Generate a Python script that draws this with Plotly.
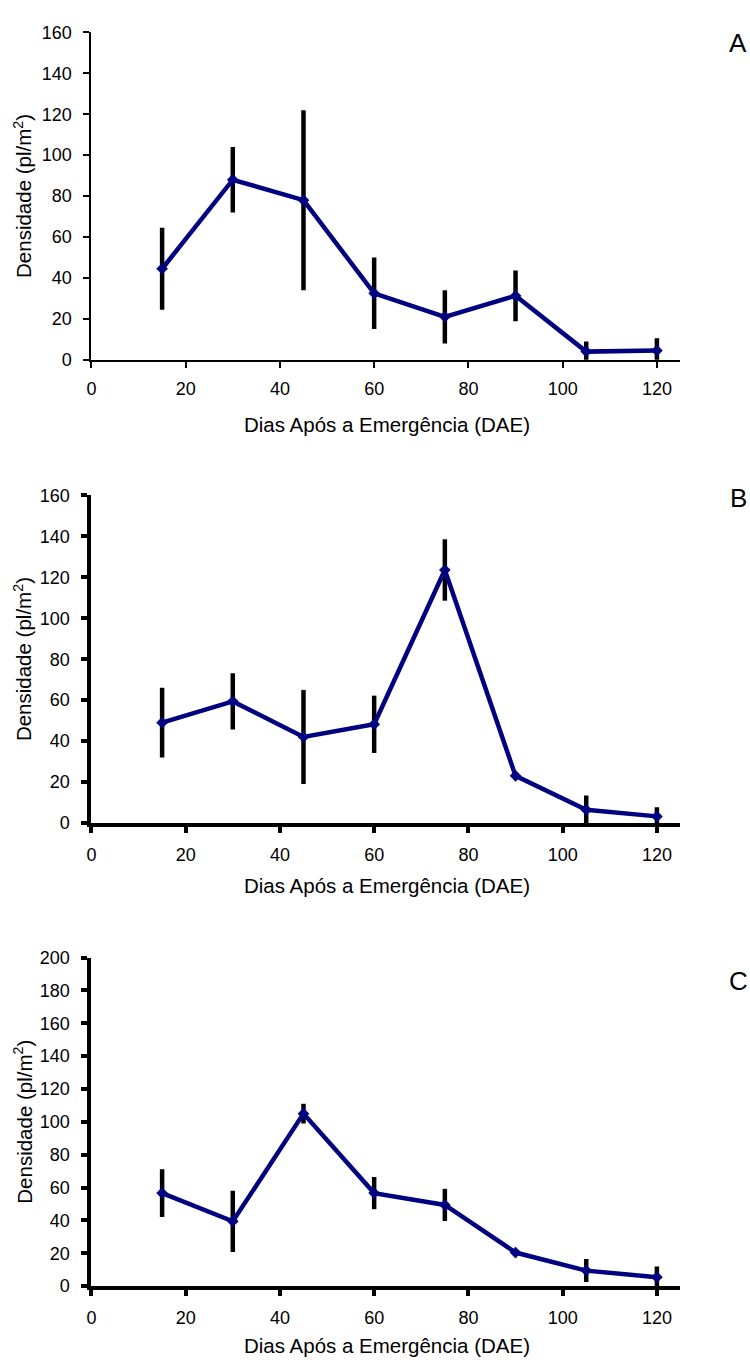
import plotly.graph_objects as go

W, H = 750, 1367

dae = [15, 30, 45, 60, 75, 90, 105, 120]

dens_a = [44.5, 88.0, 78.0, 32.5, 21.0, 31.3, 4.0, 4.5]
err_a = [20.0, 16.0, 44.0, 17.5, 13.0, 12.4, 5.0, 6.0]

dens_b = [49.0, 59.4, 42.0, 48.2, 123.6, 23.0, 6.4, 3.2]
err_b = [17.0, 13.8, 23.0, 14.0, 15.0, 0.0, 7.0, 4.5]

dens_c = [56.6, 39.4, 105.0, 56.6, 49.4, 20.4, 9.4, 5.4]
err_c = [14.5, 18.7, 6.0, 9.8, 9.8, 0.0, 7.0, 6.5]

panels = ["A", "B", "C"]
y_ranges = [[0, 160], [0, 160], [0, 200]]
x_tick_vals = [0, 20, 40, 60, 80, 100, 120]
x_title = "Dias Após a Emergência (DAE)"
y_title = "Densidade (pl/m<sup>2</sup>)"

# pixel geometry (top-origin)
x_left_px, x_right_px = 87, 680
y_geom = [(22.7, 355.0), (492.7, 825.0), (961.7, 1295.0)]
axis_widths = [2, 4, 4]
xtitle_y_px = [421, 888, 1355]
letter_y_px = [33, 495, 985]

FONT = "Liberation Sans, Arial, sans-serif"
LINE_COLOR = "#000080"

fig = go.Figure()
series = [(dens_a, err_a), (dens_b, err_b), (dens_c, err_c)]

layout = dict(
    width=W, height=H,
    margin=dict(l=0, r=0, t=0, b=0),
    paper_bgcolor="white", plot_bgcolor="white",
    showlegend=False,
    font=dict(family=FONT, size=18, color="black"),
    annotations=[],
)

for i, (vals, errs) in enumerate(series):
    n = i + 1
    xa = "x" if n == 1 else f"x{n}"
    ya = "y" if n == 1 else f"y{n}"
    # error bars (beneath the line)
    fig.add_trace(go.Scatter(
        x=dae, y=vals, mode="markers", xaxis=xa, yaxis=ya,
        marker=dict(size=1, opacity=0),
        error_y=dict(type="data", array=errs, visible=True, color="black",
                     thickness=4.5, width=0),
        cliponaxis=False, hoverinfo="skip",
    ))
    fig.add_trace(go.Scatter(
        x=dae, y=vals, mode="lines+markers", xaxis=xa, yaxis=ya,
        line=dict(color=LINE_COLOR, width=4.5),
        marker=dict(symbol="diamond", size=9, color=LINE_COLOR),
        cliponaxis=False,
    ))
    top_px, bot_px = y_geom[i]
    aw = axis_widths[i]
    layout["xaxis" if n == 1 else f"xaxis{n}"] = dict(
        domain=[x_left_px / W, x_right_px / W], range=[0, 125],
        anchor=ya, tickvals=x_tick_vals, ticks="outside", ticklen=6,
        tickwidth=aw, tickcolor="black", showline=True, linecolor="black",
        linewidth=aw, showgrid=False, zeroline=False, ticklabelstandoff=6,
        tickfont=dict(size=18, family=FONT, color="black"),
    )
    yr = y_ranges[i]
    layout["yaxis" if n == 1 else f"yaxis{n}"] = dict(
        domain=[(H - bot_px) / H, (H - top_px) / H], range=yr,
        anchor=xa, tickvals=list(range(yr[0], yr[1] + 1, 20)), ticks="outside",
        ticklen=6, tickwidth=aw, tickcolor="black", showline=True,
        linecolor="black", linewidth=aw, showgrid=False, zeroline=False,
        ticklabelstandoff=8,
        tickfont=dict(size=18, family=FONT, color="black"),
    )
    layout["annotations"].append(dict(
        text=x_title, xref="paper", yref="paper",
        x=384.5 / W, y=(H - xtitle_y_px[i]) / H, xanchor="center", yanchor="middle",
        showarrow=False, font=dict(size=20.5, family=FONT, color="black"),
    ))
    layout["annotations"].append(dict(
        text=y_title, xref="paper", yref="paper", textangle=-90,
        x=18 / W, y=(H - (top_px + bot_px) / 2) / H, xanchor="center", yanchor="middle",
        showarrow=False, font=dict(size=20.5, family=FONT, color="black"),
    ))
    layout["annotations"].append(dict(
        text=panels[i], xref="paper", yref="paper",
        x=738 / W, y=(H - letter_y_px[i]) / H, xanchor="center", yanchor="middle",
        showarrow=False, font=dict(size=26, family=FONT, color="black"),
    ))

fig.update_layout(**layout)
fig.write_html("out.html")
